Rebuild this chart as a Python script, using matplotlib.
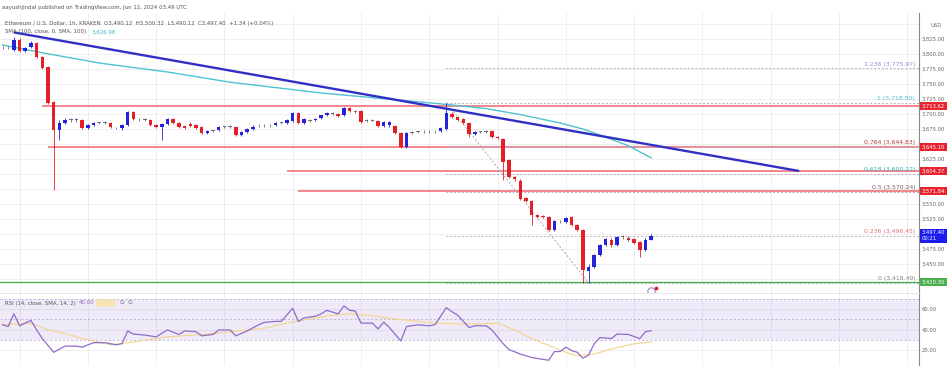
import matplotlib
matplotlib.use("Agg")
import matplotlib.pyplot as plt
import matplotlib.transforms as mtrans
import numpy as np

# ETH/USD 1h candles
opens = [3811, 3812, 3807, 3823, 3805, 3812, 3818, 3795, 3778, 3720,
         3673, 3685, 3690, 3691, 3690, 3677, 3682, 3685, 3686, 3685,
         3677, 3676, 3682, 3703, 3692, 3691, 3690, 3682, 3678, 3683,
         3692, 3685, 3680, 3684, 3681, 3678, 3669, 3672, 3673, 3678,
         3679, 3678, 3665, 3670, 3675, 3681, 3682, 3681, 3682, 3685,
         3685, 3688, 3702, 3685, 3690, 3690, 3693, 3698, 3701, 3700,
         3698, 3710, 3704, 3705, 3689, 3690, 3688, 3680, 3681, 3680,
         3668, 3645, 3668, 3670, 3671, 3672, 3671, 3672, 3675, 3700,
         3695, 3692, 3685, 3667, 3670, 3671, 3672, 3662, 3658, 3623,
         3595, 3588, 3560, 3555, 3532, 3530, 3528, 3507, 3522, 3520,
         3528, 3515, 3507, 3438, 3445, 3465, 3482, 3490, 3482, 3495,
         3494, 3492, 3487, 3473, 3490.12]
highs = [3814, 3814, 3828, 3826, 3812, 3822, 3820, 3797, 3780, 3722,
         3690, 3694, 3694, 3694, 3692, 3684, 3687, 3687, 3688, 3687,
         3679, 3684, 3705, 3705, 3694, 3693, 3692, 3684, 3685, 3694,
         3694, 3687, 3682, 3686, 3683, 3680, 3674, 3674, 3680, 3680,
         3681, 3680, 3672, 3677, 3681, 3683, 3684, 3683, 3687, 3687,
         3692, 3704, 3704, 3693, 3692, 3693, 3699, 3703, 3703, 3702,
         3712, 3712, 3706, 3707, 3692, 3692, 3690, 3689, 3689, 3682,
         3670, 3670, 3671, 3672, 3673, 3674, 3673, 3678, 3718, 3704,
         3697, 3694, 3687, 3672, 3672, 3673, 3674, 3664, 3660, 3625,
         3597, 3591, 3562, 3557, 3534, 3532, 3530, 3524, 3524, 3529,
         3530, 3517, 3509, 3450, 3467, 3484, 3494, 3493, 3497, 3498,
         3496, 3494, 3489, 3494, 3500.32]
lows = [3809, 3809, 3805, 3803, 3803, 3810, 3793, 3775, 3716, 3573,
        3657, 3683, 3687, 3687, 3675, 3675, 3680, 3683, 3683, 3676,
        3675, 3674, 3680, 3690, 3689, 3688, 3680, 3676, 3657, 3681,
        3683, 3676, 3675, 3678, 3675, 3667, 3667, 3670, 3671, 3676,
        3676, 3663, 3663, 3668, 3673, 3679, 3679, 3679, 3680, 3683,
        3683, 3686, 3683, 3683, 3687, 3688, 3691, 3696, 3698, 3695,
        3696, 3703, 3701, 3685, 3687, 3688, 3678, 3678, 3679, 3666,
        3643, 3643, 3666, 3668, 3669, 3669, 3669, 3670, 3673, 3693,
        3688, 3683, 3661, 3665, 3668, 3668, 3660, 3658, 3590, 3593,
        3589, 3556, 3553, 3515, 3526, 3526, 3505, 3505, 3519, 3518,
        3513, 3505, 3419, 3419, 3443, 3463, 3480, 3479, 3480, 3492,
        3488, 3483, 3462, 3471, 3490.12]
closes = [3812, 3811, 3823, 3805, 3810, 3818, 3795, 3777, 3718, 3673,
          3685, 3690, 3691, 3690, 3677, 3682, 3685, 3686, 3685, 3678,
          3676, 3682, 3703, 3692, 3691, 3690, 3682, 3678, 3683, 3692,
          3685, 3678, 3677, 3680, 3677, 3669, 3672, 3673, 3678, 3679,
          3678, 3665, 3670, 3675, 3679, 3682, 3681, 3682, 3685, 3686,
          3690, 3702, 3685, 3691, 3689, 3692, 3698, 3701, 3700, 3697,
          3710, 3705, 3703, 3687, 3690, 3689, 3680, 3687, 3687, 3668,
          3645, 3668, 3669, 3671, 3672, 3671, 3672, 3677, 3702, 3695,
          3690, 3685, 3667, 3670, 3671, 3670, 3662, 3660, 3620, 3595,
          3592, 3558, 3555, 3532, 3528, 3528, 3507, 3522, 3521, 3527,
          3515, 3507, 3440, 3445, 3465, 3482, 3492, 3482, 3495, 3496,
          3490, 3485, 3473, 3490, 3497.40]

# SMA 100 (teal), sampled along the curve
sma_idx = [0, 7, 17, 29, 40, 56, 70, 78, 85, 91, 98, 102, 105, 110, 114]
sma_val = [3815, 3802, 3785, 3770, 3753, 3735, 3723, 3716, 3709, 3699, 3685, 3675,
           3665, 3647, 3627]

# descending trendline end points
trend_idx = [2, 140]
trend_val = [3836, 3605]

# horizontal levels: value, start candle, axis label
red_levels = [3713.62, 3645.10, 3604.37, 3571.84]
red_starts = [7, 8, 50, 52]
green_level = 3420.30

fib_ratios = ["1.236", "1", "0.764", "0.618", "0.5", "0.236", "0"]
fib_values = [3775.97, 3718.80, 3644.83, 3600.22, 3570.24, 3496.45, 3418.49]
fib_colors = ["#a77fd6", "#5bbbd8", "#b23a3a", "#2fb0b8", "#7a6060", "#e0707a", "#888888"]

# RSI (purple) and its SMA (yellow)
rsi_idx = [0, 1, 2, 3, 5, 6, 7, 9, 11, 13, 14, 16, 18, 20, 21, 22, 23, 25, 27, 29,
           31, 32, 34, 35, 37, 38, 40, 41, 43, 45, 46, 48, 49, 51, 52, 53, 55, 56, 57, 59,
           60, 61, 62, 63, 65, 66, 67, 68, 70, 71, 73, 75, 76, 78, 79, 80, 82, 83, 85, 86,
           88, 89, 91, 93, 94, 96, 97, 98, 99, 100, 101, 102, 103, 104, 105, 107, 108, 110,
           112, 113, 114]
rsi_val = [44.7, 43, 55.3, 43.7, 49, 39.7, 31.3, 18, 24, 24, 23, 27.3, 27.3, 25.3, 26.3,
           38.7, 35.7, 34.7, 33, 39.7, 35.3, 38.7, 38, 34, 35.3, 39.7, 39.7, 34, 38.7, 44.7,
           47, 48, 48, 60.7, 48, 51.3, 53, 55.3, 58.7, 55.3, 63, 58.7, 58, 46.3, 46.3, 40.7,
           47.3, 42, 29, 43, 44.7, 43.7, 44.7, 61.3, 57.3, 54, 42, 43.7, 43.7, 39.7, 26.3,
           20.7, 16.3, 13, 12, 10.3, 18.7, 18.7, 23, 19.7, 18, 12.3, 15.3, 26.3, 32.3, 31.3,
           35.7, 35.3, 31.3, 38, 39]
rsi_sma_idx = [0, 5, 8, 11, 14, 17, 19, 23, 29, 35, 40, 46, 50, 55, 58, 61, 64, 70,
               76, 82, 87, 90, 93, 96, 99, 101, 104, 107, 111, 114]
rsi_sma_val = [44.7, 46.3, 39.7, 36.3, 31.3, 28, 25.3, 28, 33, 35.3, 38, 41.3, 46.3,
               51.3, 54, 55.3, 54, 49.7, 46.3, 45.3, 46.3, 39.7, 31.3, 24.7, 18, 14.7,
               16.3, 21.3, 26.3, 28]

price_ticks = [3850, 3825, 3800, 3775, 3750, 3725, 3700, 3675, 3650, 3625, 3600,
               3575, 3550, 3525, 3500, 3475, 3450, 3425]
price_tick_labels = ["", "3,825.00", "3,800.00", "3,775.00", "3,750.00", "3,725.00",
                     "3,700.00", "3,675.00", "", "3,625.00", "", "", "3,550.00",
                     "3,525.00", "", "3,475.00", "3,450.00", ""]

UP = "#2424d6"
DOWN = "#e3202a"
GRID = "#ececf0"
AXFS = 3.8

W, H = 947, 366
fig = plt.figure(figsize=(W / 100, H / 100), dpi=100)
axw = 919 / W
ax = fig.add_axes([0, 73 / H, axw, 280 / H])
rx = fig.add_axes([0, 0, axw, 73 / H])

xlim = (-2.5 / 5.69, (919 - 2.5) / 5.69)
vgrid = np.arange(3, 161, 12)

# ---------- price pane ----------
o = np.array(opens); c = np.array(closes)
n = np.arange(len(o))
col = np.where(c >= o, UP, DOWN).astype(object)
col[np.abs(c - o) < 1.5] = "#6d6d7a"
ax.vlines(n, lows, highs, colors=list(col), lw=0.6, zorder=4)
ax.bar(n, np.maximum(np.abs(c - o), 1.3), bottom=np.minimum(o, c), width=0.62,
       color=list(col), linewidth=0, zorder=5)

ax.plot(sma_idx, sma_val, color="#4ec3cf", lw=1.0, zorder=3)
ax.plot(trend_idx, trend_val, color="#3030c4", lw=1.7, zorder=6, solid_capstyle="butt")

for v, s in zip(red_levels, red_starts):
    ax.hlines(v, s, xlim[1], color="#f04050", lw=1.2, alpha=0.75, zorder=2)
ax.axhline(green_level, color="#4caf50", lw=1.0, zorder=2)

trans = mtrans.blended_transform_factory(ax.transAxes, ax.transData)
for r, v, fc in zip(fib_ratios, fib_values, fib_colors):
    ax.hlines(v, 78, xlim[1], color="#b4aec0", lw=0.7, linestyles=(0, (2, 2)), zorder=2)
    val = f"{v:,.2f}"
    ax.text(0.996, v + 3, f"{r} ({val})", transform=trans, ha="right", va="bottom",
            fontsize=4.4, color=fc, zorder=7)
# fib trend (high to low)
ax.plot([78, 103], [fib_values[1], fib_values[-1]], color="#aaaaaa", lw=0.7,
        ls=(0, (2, 2)), zorder=2)

# event marker
ax.scatter([114], [3405], s=28, facecolor="white", edgecolor="#a77fd6", lw=0.8, zorder=8,
           clip_on=False)
ax.scatter([114.9], [3410], s=3, color="#e3202a", zorder=9, clip_on=False)

ax.set_xlim(*xlim)
ax.set_ylim(3890 - 1.6667 * 293, 3890 - 1.6667 * 13)
ax.set_xticks(vgrid)
ax.set_yticks(price_ticks)
ax.set_yticklabels(price_tick_labels)
ax.yaxis.tick_right()
ax.tick_params(axis="y", length=0, pad=2.2, labelsize=AXFS, labelcolor="#666666")
ax.tick_params(axis="x", length=0, labelbottom=False)
ax.grid(True, color=GRID, lw=0.6, zorder=0)
ax.set_axisbelow(True)
for s in ["top", "left", "bottom"]:
    ax.spines[s].set_visible(False)
ax.spines["right"].set_color("#8a8a8a")
ax.spines["right"].set_linewidth(0.8)

ax.text(1.012, 3847, "USD", transform=trans, fontsize=AXFS, color="#666666",
        va="center", clip_on=False)

def axis_box(a, tr, y, text, fc):
    a.text(1.003, y, text, transform=tr, ha="left", va="center", fontsize=AXFS,
           color="white", linespacing=1.2, clip_on=False, zorder=10,
           bbox=dict(boxstyle="square,pad=0.3", fc=fc, ec="none"))

for v in red_levels:
    axis_box(ax, trans, v, f"{v:,.2f}", "#e8232d")
axis_box(ax, trans, 3497.40, "3,497.40\n00:21", "#1c1cf0")
axis_box(ax, trans, green_level, f"{green_level:,.2f}", "#4caf50")

# ---------- RSI pane ----------
rx.axhspan(30, 70, color="#7e57c2", alpha=0.12, lw=0, zorder=1)
for lvl in [70, 50, 30]:
    rx.axhline(lvl, color="#b0a0c8", lw=0.5, ls=(0, (3, 3)), zorder=2)
rx.plot(rsi_sma_idx, rsi_sma_val, color="#f3d48a", lw=0.8, zorder=3)
rx.plot(rsi_idx, rsi_val, color="#8e6cc9", lw=0.9, zorder=4)
rx.set_xlim(*xlim)
rx.set_ylim(60 - (366 - 309) * 0.97, 60 + (309 - 293) * 0.97)
rx.set_xticks(vgrid)
rx.set_yticks([60, 40, 20])
rx.set_yticklabels(["60.00", "40.00", "20.00"])
rx.yaxis.tick_right()
rx.tick_params(axis="y", length=0, pad=2.2, labelsize=AXFS, labelcolor="#666666")
rx.tick_params(axis="x", length=0, labelbottom=False)
rx.grid(True, color=GRID, lw=0.6, zorder=0)
rx.set_axisbelow(True)
for s in ["left", "bottom"]:
    rx.spines[s].set_visible(False)
rx.spines["top"].set_color("#e2e2e6")
rx.spines["top"].set_linewidth(0.6)
rx.spines["right"].set_color("#8a8a8a")
rx.spines["right"].set_linewidth(0.8)

# ---------- header / legends ----------
def px(x, y):
    return x / W, 1 - y / H

fig.text(*px(2, 7), "aayushjindal published on TradingView.com, Jun 12, 2024 03:49 UTC",
         fontsize=3.9, color="#555555", va="center")
fig.text(*px(5, 24), "Ethereum / U.S. Dollar, 1h, KRAKEN  O3,490.12  H3,500.32  "
         "L3,490.12  C3,497.40  +1.34 (+0.04%)", fontsize=3.9, color="#555555",
         va="center", zorder=10)
fig.text(*px(5, 32), "SMA (100, close, 0, SMA, 100)", fontsize=3.9, color="#555555",
         va="center", zorder=10)
fig.text(*px(92, 32), "3,626.98", fontsize=3.9, color="#3fb8c6", va="center", zorder=10)
fig.text(*px(5, 303), "RSI (14, close, SMA, 14, 2)", fontsize=3.9, color="#555555",
         va="center", zorder=10)
fig.text(*px(79, 303), "40.00", fontsize=3.9, color="#8e6cc9", va="center", zorder=10)
fig.text(*px(97, 303), "          ", fontsize=3.9, va="center", zorder=10,
         bbox=dict(boxstyle="round,pad=0.2", fc="#f7e3b0", ec="none"))
fig.text(*px(120, 303), "\u2205  \u2205", fontsize=3.9, color="#555555", va="center",
         zorder=10)

fig.savefig("out.png", dpi=100, facecolor="white")
